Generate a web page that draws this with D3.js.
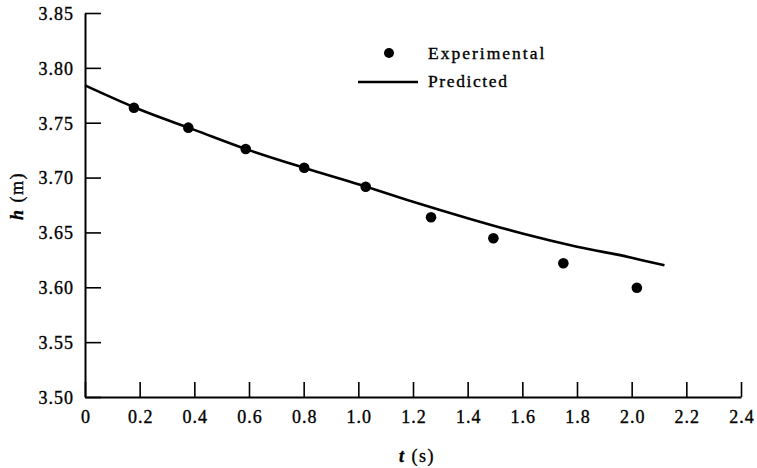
<!DOCTYPE html>
<html><head><meta charset="utf-8">
<script src="https://cdn.jsdelivr.net/npm/d3@7"></script>
<style>body{margin:0;background:#fff}svg{display:block}</style>
</head><body><svg id="c" width="757" height="468"></svg>
<script>
const expT = [0.179, 0.378, 0.588, 0.802, 1.027, 1.266, 1.494, 1.750, 2.019];
const expH = [3.7637, 3.7455, 3.726, 3.709, 3.6917, 3.6638, 3.6447, 3.6219, 3.5996];
const predT = [0, 0.2, 0.4, 0.6, 0.8, 1.0, 1.2, 1.4, 1.6, 1.8, 2.0, 2.12];
const predH = [3.784, 3.762, 3.7435, 3.725, 3.709, 3.694, 3.678, 3.663, 3.649, 3.637, 3.627, 3.620];
const xTicks = [0, 0.2, 0.4, 0.6, 0.8, 1.0, 1.2, 1.4, 1.6, 1.8, 2.0, 2.2, 2.4];
const xTickLabels = ["0", "0.2", "0.4", "0.6", "0.8", "1.0", "1.2", "1.4", "1.6", "1.8", "2.0", "2.2", "2.4"];
const yTicks = [3.50, 3.55, 3.60, 3.65, 3.70, 3.75, 3.80, 3.85];
const yTickLabels = ["3.50", "3.55", "3.60", "3.65", "3.70", "3.75", "3.80", "3.85"];

const FONT = '"Liberation Serif", "Times New Roman", Times, "DejaVu Serif", serif';
const svg = d3.select("#c").style("font-family", FONT);
const x = d3.scaleLinear().domain([0, 2.4]).range([85, 741]);
const y = d3.scaleLinear().domain([3.50, 3.85]).range([397, 13]);

function styleText(sel, size, ls) {
  sel.style("font-size", size + "px").style("font-family", FONT)
     .style("letter-spacing", ls + "px")
     .attr("fill", "#000").attr("stroke", "#000").attr("stroke-width", 0.35);
}

const xAxis = d3.axisBottom(x).tickValues(xTicks).tickFormat((d,i)=>xTickLabels[i]).tickSize(-15).tickPadding(26).tickSizeOuter(0);
const gx = svg.append("g").attr("transform", "translate(0,397)").call(xAxis).attr("font-family", null).attr("font-size", null);
gx.select(".domain").attr("stroke", "#000").attr("stroke-width", 2);
gx.selectAll(".tick line").attr("stroke", "#000").attr("stroke-width", 1.6);
gx.selectAll(".tick text").call(styleText, 18, 1).attr("dy", "0").attr("dx", "0.5");

const yAxis = d3.axisLeft(y).tickValues(yTicks).tickFormat((d,i)=>yTickLabels[i]).tickSize(-16).tickPadding(11).tickSizeOuter(0);
const gy = svg.append("g").attr("transform", "translate(85,0)").call(yAxis).attr("font-family", null).attr("font-size", null);
gy.select(".domain").attr("stroke", "#000").attr("stroke-width", 2);
gy.selectAll(".tick line").attr("stroke", "#000").attr("stroke-width", 1.6);
gy.selectAll(".tick text").call(styleText, 18, 1).attr("dy", "0.35em");

const line = d3.line().x((d,i)=>x(predT[i])).y(d=>y(d)).curve(d3.curveMonotoneX);
svg.append("path").datum(predH).attr("d", line).attr("fill", "none").attr("stroke", "#000").attr("stroke-width", 2.6);

svg.selectAll("circle.pt").data(expH).enter().append("circle").attr("class","pt")
  .attr("cx", (d,i)=>x(expT[i])).attr("cy", d=>y(d)).attr("r", 5.3).attr("fill", "#000");

// legend
svg.append("circle").attr("cx", 389).attr("cy", 53).attr("r", 5).attr("fill", "#000");
svg.append("text").attr("x", 428).attr("y", 58.5).call(styleText, 17.5, 2).text("Experimental");
svg.append("line").attr("x1", 358).attr("x2", 418).attr("y1", 82).attr("y2", 82).attr("stroke", "#000").attr("stroke-width", 2.4);
svg.append("text").attr("x", 428).attr("y", 87).call(styleText, 17.5, 1.6).text("Predicted");

// axis titles
const yt = svg.append("text").attr("transform", "translate(23,196) rotate(-90)").attr("text-anchor", "middle").call(styleText, 18, 1.5);
yt.append("tspan").attr("font-style", "italic").attr("font-weight", "bold").text("h");
yt.append("tspan").text(" (m)");
const xt = svg.append("text").attr("x", 417).attr("y", 462).attr("text-anchor", "middle").call(styleText, 18, 1.5);
xt.append("tspan").attr("font-style", "italic").attr("font-weight", "bold").text("t");
xt.append("tspan").text(" (s)");
</script></body></html>
